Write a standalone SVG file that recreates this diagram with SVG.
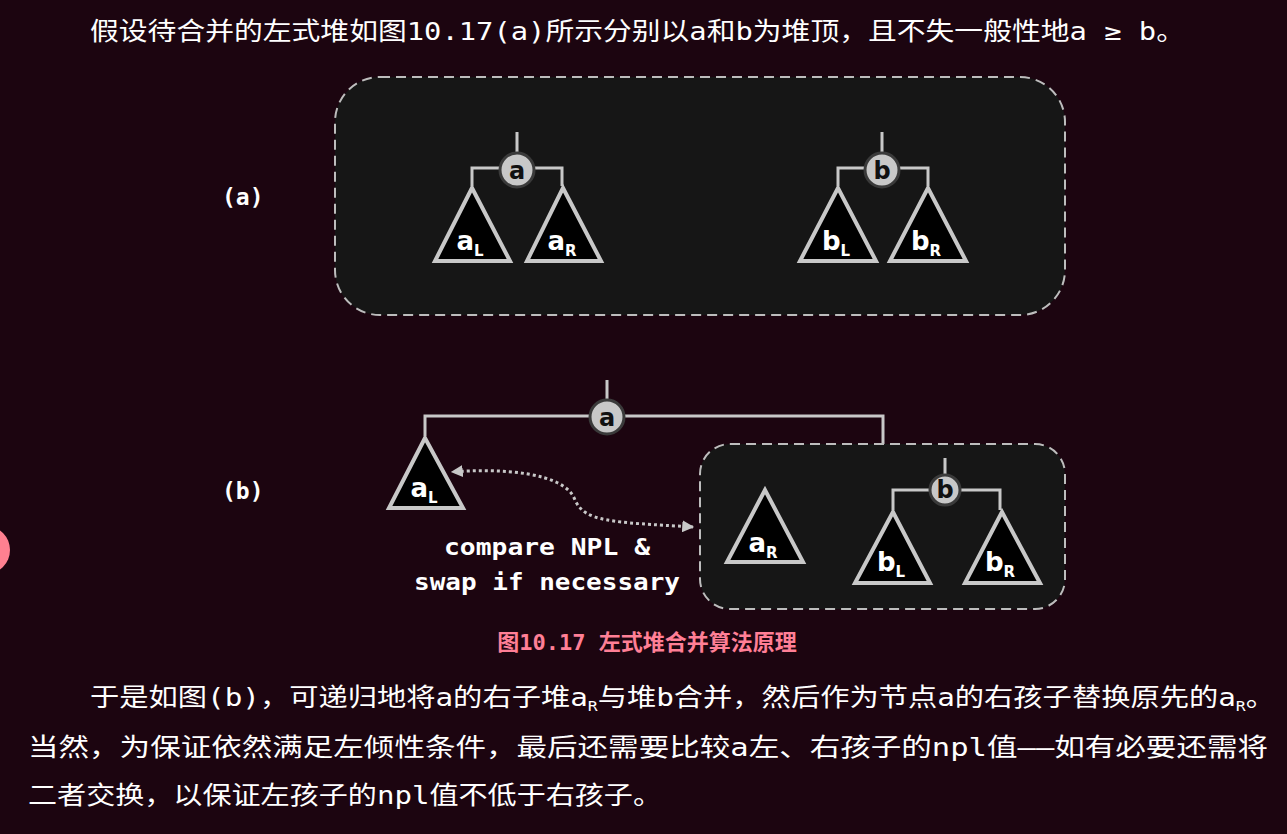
<svg xmlns="http://www.w3.org/2000/svg" width="1287" height="834" viewBox="0 0 1287 834">
<defs>
<style>
.bg{fill:#1c0510}
.panel{fill:#161616;stroke:#bdbdbd;stroke-width:2;stroke-dasharray:10 6}
.edge{fill:none;stroke:#c8c8c8;stroke-width:3}
.tri{fill:#000;stroke:#c8c8c8;stroke-width:4;stroke-linejoin:miter}
.nc{fill:#c8c8c8;stroke:#3a3a3a;stroke-width:3}
.nt{font-family:"DejaVu Sans",sans-serif;font-size:24px;fill:#111;text-anchor:middle;font-weight:bold}
.tt{font-family:"DejaVu Sans",sans-serif;font-size:26px;fill:#fff;text-anchor:middle;font-weight:bold}
.sub{font-size:15px}
.lab{font-family:"DejaVu Sans Mono",monospace;font-size:23px;fill:#fff;font-weight:bold}
.body{font-family:"DejaVu Sans Mono","Noto Sans CJK SC",monospace;font-size:25px;fill:#fff}
.cap{font-family:"DejaVu Sans Mono","Noto Sans CJK SC",monospace;font-size:22px;fill:#ff7f96;font-weight:bold;text-anchor:middle}
</style>
<marker id="ah" viewBox="0 0 10 10" refX="9" refY="5" markerWidth="4" markerHeight="4" orient="auto-start-reverse"><path d="M0 0L10 5L0 10z" fill="#c8c8c8"/></marker>
</defs>
<rect class="bg" width="1287" height="834"/>
<circle cx="-14" cy="550" r="24" fill="#ff8090"/>
<text class="body" x="90" y="40" textLength="1095" lengthAdjust="spacingAndGlyphs">假设待合并的左式堆如图10.17(a)所示分别以a和b为堆顶，且不失一般性地a ≥ b。</text>
<rect class="panel" x="335" y="77" width="730" height="238" rx="45"/>
<text class="lab" x="222" y="205">(a)</text>
<text class="lab" x="222" y="499">(b)</text>
<g id="connectors">
<path class="edge" d="M517 132V152M472 186V168H562V186M882 132V152M838 186V168H928V186"/>
<path class="edge" d="M607 380V400M425 436V416H883V444"/>
<path d="M693 527C610 522 585 522 575 500C565 472 500 468 452 472" fill="none" stroke="#c8c8c8" stroke-width="3" stroke-dasharray="3 3" marker-start="url(#ah)" marker-end="url(#ah)"/>
</g>
<g id="a-top"><circle class="nc" cx="517" cy="170" r="17"/><text class="nt" x="517" y="179">a</text></g>
<g id="aL-top"><path class="tri" d="M472 188L435 261H510Z"/><text class="tt" x="470" y="250">a<tspan class="sub" dy="6">L</tspan></text></g>
<g id="aR-top"><path class="tri" d="M563 188L527 261H601Z"/><text class="tt" x="562" y="250">a<tspan class="sub" dy="6">R</tspan></text></g>
<g id="b-top"><circle class="nc" cx="882" cy="170" r="17"/><text class="nt" x="882" y="179">b</text></g>
<g id="bL-top"><path class="tri" d="M838 188L800 261H876Z"/><text class="tt" x="836" y="250">b<tspan class="sub" dy="6">L</tspan></text></g>
<g id="bR-top"><path class="tri" d="M928 188L890 261H966Z"/><text class="tt" x="926" y="250">b<tspan class="sub" dy="6">R</tspan></text></g>
<rect class="panel" x="700" y="444" width="365" height="165" rx="30"/>
<path class="edge" d="M945 458V474M893 510V490H1000V510"/>
<g id="a-b"><circle class="nc" cx="607" cy="417" r="17"/><text class="nt" x="607" y="426">a</text></g>
<g id="aL-b"><path class="tri" d="M425 438L389 508H463Z"/><text class="tt" x="424" y="497">a<tspan class="sub" dy="6">L</tspan></text></g>
<g id="aR-b"><path class="tri" d="M765 490L727 562H803Z"/><text class="tt" x="763" y="552">a<tspan class="sub" dy="6">R</tspan></text></g>
<g id="b-b"><circle class="nc" cx="945" cy="490" r="15"/><text class="nt" x="945" y="498">b</text></g>
<g id="bL-b"><path class="tri" d="M893 512L855 583H930Z"/><text class="tt" x="891" y="571">b<tspan class="sub" dy="6">L</tspan></text></g>
<g id="bR-b"><path class="tri" d="M1002 512L965 583H1040Z"/><text class="tt" x="1000" y="571">b<tspan class="sub" dy="6">R</tspan></text></g>
<text class="lab" x="547" y="555" text-anchor="middle" textLength="206" lengthAdjust="spacingAndGlyphs">compare NPL &amp;</text>
<text class="lab" x="547" y="590" text-anchor="middle" textLength="266" lengthAdjust="spacingAndGlyphs">swap if necessary</text>
<text class="cap" x="647" y="650">图10.17 左式堆合并算法原理</text>
<text class="body" x="90" y="706" textLength="1185" lengthAdjust="spacingAndGlyphs">于是如图(b)，可递归地将a的右子堆a<tspan font-size="14" dy="5">R</tspan><tspan dy="-5">与堆b合并，然后作为节点a的右孩子替换原先的a</tspan><tspan font-size="14" dy="5">R</tspan><tspan dy="-5">。</tspan></text>
<text class="body" x="28" y="756" textLength="1240" lengthAdjust="spacingAndGlyphs">当然，为保证依然满足左倾性条件，最后还需要比较a左、右孩子的npl值——如有必要还需将</text>
<text class="body" x="28" y="804" textLength="634" lengthAdjust="spacingAndGlyphs">二者交换，以保证左孩子的npl值不低于右孩子。</text>
</svg>
